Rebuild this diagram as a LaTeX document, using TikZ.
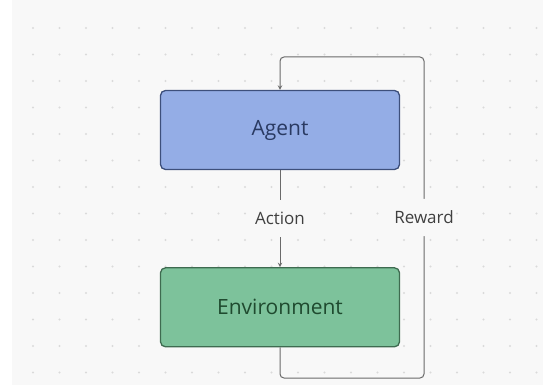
\documentclass[tikz,border=0pt]{standalone}
\usepackage{fontspec}
\setmainfont{Open Sans}
\usetikzlibrary{positioning, arrows}

\definecolor{bggray}{HTML}{F8F8F8}
\definecolor{dotgray}{HTML}{DADADA}
\definecolor{agentfill}{HTML}{94ADE6}
\definecolor{agentline}{HTML}{3D4F7C}
\definecolor{agenttext}{HTML}{2A3A62}
\definecolor{envfill}{HTML}{7DC29B}
\definecolor{envline}{HTML}{3E6B50}
\definecolor{envtext}{HTML}{1F4A2F}
\definecolor{linkgray}{HTML}{6A6A6A}

\begin{document}
\begin{tikzpicture}[x=1pt, y=-1pt, node distance=97pt,
 main box/.style={rectangle, rounded corners=5pt, draw, line width=1.3pt,
  minimum width=239pt, minimum height=79pt, font=\fontsize{21}{24}\selectfont},
 link/.style={draw=linkgray, line width=1pt, -stealth},
 link label/.style={fill=bggray, text=black!75, inner xsep=2pt, inner ysep=12pt,
  font=\fontsize{17}{20}\selectfont}]

  \useasboundingbox (0,0) rectangle (543,385);
  \fill[bggray] (12,0) rectangle (543,385);
  \foreach \i in {0,...,19}
   \foreach \j in {0,...,13} {
    \fill[dotgray] (33+26.5*\i, 28+26.5*\j) circle (1.2pt);}

  \node[main box, fill=agentfill, draw=agentline, text=agenttext] (agent) at (280,130) {Agent};
  \node[main box, fill=envfill, draw=envline, text=envtext] (env) [below=of agent] {Environment};

  \coordinate (loop bottom) at (424,378);
  \coordinate (loop top) at (424,57);

  \path[link] (agent) -- node[link label] {Action} (env);
  \path[link, rounded corners=4pt] (env.south) |- (loop bottom)
   -- node[link label] {Reward} (loop top) -| (agent.north);
\end{tikzpicture}
\end{document}
